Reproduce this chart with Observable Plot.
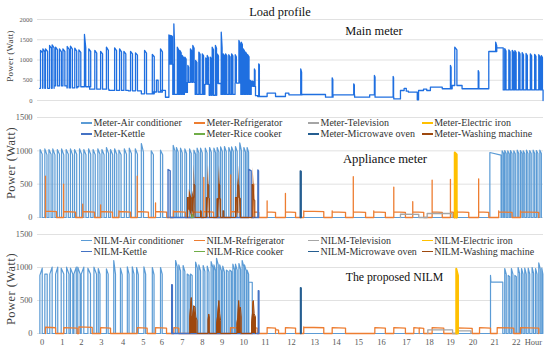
<!DOCTYPE html>
<html><head><meta charset="utf-8">
<script src="https://cdn.jsdelivr.net/npm/d3@7"></script>
<script src="https://cdn.jsdelivr.net/npm/@observablehq/plot@0.6"></script>
<style>
body{margin:0;background:#fff;}
#wrap{position:relative;width:550px;height:349px;font-family:"Liberation Serif",serif;overflow:hidden;background:#fff}
.abs{position:absolute;white-space:nowrap;line-height:1;color:#222}
.sw{display:inline-block;width:11px;height:1.6px;vertical-align:middle;margin-right:1.5px;position:relative;top:-1px}
</style></head><body><div id="wrap"></div>
<script>
// ---------------- DATA (x = position on the hour axis, y = Watt) ----------------
const hourTickPos = [0, 0.93, 1.82, 2.74, 3.76, 4.69, 5.55, 6.50, 7.43, 8.35, 9.36, 10.36, 11.57, 12.65, 13.66, 14.69, 15.75, 16.91, 17.98, 18.95, 20.0, 21.01, 22.0, 22.80];
const hourTickLabels = ["0","1","2","3","4","5","6","7","8","9","10","11","12","13","14","15","16","17","18","19","20","21","22","Hour"];
const yTicksMain = [0, 500, 1000, 1500, 2000];
const yTicksSub = [0, 500, 1000, 1500];

const applianceNames = ["Air conditioner","Refrigerator","Television","Electric iron","Kettle","Rice cooker","Microwave oven","Washing machine"];

// Main meter: baseline steps [x, W] and spikes [start, end, Wstart, Wend]
const mainBase = [[-0.12,300],[0.55,360],[1.15,310],[1.62,340],[2.2,280],[3.1,250],[4.0,240],[4.6,165],[5.15,210],[5.3,500],[5.38,210],[5.5,250],[5.72,80],[5.88,900],[6.06,150],[6.6,200],[6.74,450],[7.1,150],[7.55,400],[7.75,130],[8.1,420],[8.3,150],[8.95,430],[9.22,150],[9.7,350],[9.9,120],[10.0,99],[10.44,180],[10.83,99],[11.29,180],[11.45,140],[12.07,148],[13.15,82],[13.5,140],[14.5,82],[15.2,140],[15.45,82],[16.32,40],[16.63,247],[16.8,300],[16.9,230],[17.0,206],[17.41,17],[17.47,247],[17.7,280],[17.85,247],[18.02,330],[18.57,290],[19.03,370],[19.49,290],[20.73,1210],[21.07,1300],[21.40,260],[23.25,0]];
const mainSpikes = [
 [-0.08,0.02,1235,1180],[0.03,0.12,1276,1200],[0.15,0.25,1276,1210],[0.34,0.43,1358,1290],[0.46,0.55,1375,1300],[0.62,0.71,1316,1250],[0.80,0.89,1276,1200],[0.96,1.05,1276,1210],[1.16,1.25,1333,1260],[1.31,1.40,1341,1270],[1.51,1.60,1291,1220],[1.70,1.79,1252,1190],[1.96,2.02,1630,1300],[2.16,2.25,1276,1210],[2.44,2.53,1235,1170],[2.71,2.80,1210,1150],[2.98,3.07,1316,1240],[3.36,3.45,1300,1230],[3.59,3.68,1276,1200],[3.79,3.88,1210,1150],[4.10,4.19,1210,1150],[4.33,4.42,1178,1120],[4.75,4.84,1235,1170],[5.11,5.20,1136,1080],[5.49,5.58,1276,1200],
 [5.88,5.91,1620,1600],[5.94,5.97,1610,1590],[6.0,6.04,1600,1580],[6.11,6.14,1893,1400],[6.27,6.33,1316,1250],[6.39,6.45,1235,1180],[6.50,6.56,1111,1060],[6.62,6.68,1070,1020],[6.76,6.80,864,820],[6.88,6.94,1276,1220],[6.99,7.05,1358,1290],[7.12,7.18,988,940],[7.27,7.33,1193,1140],[7.43,7.49,1152,1100],[7.59,7.65,1050,1000],[7.66,7.71,1111,1060],[7.80,7.86,1070,1020],[7.89,7.95,1316,1250],[8.04,8.09,1358,1290],[8.12,8.18,1152,1100],[8.31,8.35,1687,1300],[8.40,8.46,1152,1100],[8.51,8.57,1152,1100],[8.66,8.72,1130,1080],[8.79,8.85,1152,1100],[8.96,9.01,1130,1080],[9.13,9.18,1481,1400],[9.24,9.29,1440,1380],[9.33,9.39,1276,1220],[9.44,9.50,1193,1140],[9.54,9.60,1130,1080],[9.64,9.69,500,480],[9.75,9.80,480,460],[9.85,9.88,780,740],[10.05,10.08,905,880],
 [12.0,12.04,782,700],[13.46,13.49,560,520],[14.46,14.49,412,380],[15.42,15.45,617,580],[16.29,16.31,593,560],[18.95,18.98,864,820],[19.15,19.25,1316,1250],[20.24,20.27,740,700],[21.05,21.10,1440,1350],
 [21.47,21.53,1280,1220],[21.66,21.72,1250,1200],[21.82,21.88,1240,1190],[21.94,22.00,1230,1180],[22.12,22.18,1200,1150],[22.28,22.34,1180,1130],[22.46,22.52,1160,1110],[22.66,22.72,1150,1100],[22.86,22.92,1140,1090],[23.05,23.11,1130,1080],[23.17,23.22,1110,1060]
];

// Appliance meter: pulses [start, end, Wstart, Wend]
const meterAC = [
 [-0.10,0.00,1020,950],[0.12,0.22,1030,940],[0.31,0.41,1020,950],[0.49,0.59,1030,940],[0.70,0.80,1020,950],[0.90,1.00,1030,940],[1.11,1.21,1020,950],[1.31,1.41,1030,940],[1.50,1.60,1020,950],[1.73,1.83,1030,950],[1.93,2.03,1020,940],[2.15,2.25,1030,950],[2.36,2.46,1020,940],[2.58,2.68,1030,950],[2.77,2.87,1020,940],[2.98,3.08,1050,960],[3.17,3.27,1020,940],[3.36,3.46,1030,950],[3.56,3.66,1010,940],[3.81,3.91,1030,950],[4.04,4.14,1040,960],[4.32,4.42,1030,950],[4.60,4.70,1110,980],[5.06,5.16,1000,940],[5.49,5.59,1010,940],
 [6.08,6.16,1082,1000],[6.23,6.31,1050,980],[6.42,6.50,1040,970],[6.62,6.70,1030,960],[6.84,6.92,1030,960],[7.04,7.12,1010,950],[7.19,7.27,1040,970],[7.35,7.43,1040,970],[7.57,7.65,1040,970],[7.77,7.85,1050,980],[7.97,8.05,1040,970],[8.12,8.20,1050,980],[8.28,8.36,1060,990],[8.46,8.54,1065,990],[8.66,8.74,1050,980],[8.79,8.87,1060,990],[8.97,9.05,1065,990],[9.17,9.25,1120,1000],[9.36,9.44,1050,980],[9.51,9.58,1050,980],
 [20.78,21.30,975,935],[21.35,21.42,1000,960],[21.47,21.54,1005,960],[21.61,21.68,1000,955],[21.74,21.81,1005,960],[21.89,21.96,1000,955],[22.05,22.12,1010,960],[22.20,22.27,1005,960],[22.33,22.40,1000,955],[22.48,22.55,1010,960],[22.63,22.70,1005,960],[22.79,22.86,1010,960],[22.94,23.01,1005,960],[23.10,23.17,1010,960]
];
// Refrigerator cycles [start, end, start spike W, plateau W]
const meterFridge = [[0.15,0.66,620,95],[0.99,1.55,500,90],[1.88,2.43,200,90],[2.71,3.26,190,90],[3.56,4.10,100,90],[4.41,4.93,620,90],[5.26,5.78,220,90],[6.09,6.65,100,90],[7.00,7.38,100,85],[7.50,7.95,600,90],[8.75,9.20,640,90],[9.82,10.05,500,85],[10.44,10.83,250,85],[11.29,11.76,360,85],[12.14,13.07,100,95],[13.46,14.08,100,85],[14.44,15.01,612,85],[15.39,15.93,100,85],[16.32,16.86,457,85],[17.20,17.71,237,85],[18.10,18.57,562,85],[18.95,19.10,570,85],[19.26,19.80,100,85],[20.26,20.73,580,85],[21.19,21.81,100,85],[22.20,23.05,100,85]];
const meterTV = [[16.63,17.48,50,48],[17.87,19.03,63,60]];
const meterIron = [[19.15,19.24,975,945]];
const meterKettle = [[5.84,5.94,720,700],[9.59,9.70,722,700],[10.01,10.04,715,700]];
const meterRice = [[6.93,7.00,45,40]];
const meterMicro = [[11.98,12.02,697,690]];
const meterWash = [
 [[6.74,300],[6.80,300],[6.80,120],[6.83,120],[6.83,300],[6.95,290],[6.95,100],[6.98,100],[6.98,300],[7.05,300],[7.05,500],[7.09,480]],
 [[7.35,100],[7.38,100]],
 [[7.62,300],[7.69,290],[7.69,500],[7.73,480],[7.73,300],[7.76,290]],
 [[8.12,280],[8.20,280],[8.20,505],[8.24,490],[8.24,280],[8.28,280]],
 [[8.40,100],[8.43,100]],
 [[8.97,300],[9.05,300],[9.05,100],[9.08,100],[9.08,490],[9.12,480],[9.12,300],[9.20,290]],
 [[9.75,500],[9.79,480],[9.79,270],[9.87,260]]
];

// Proposed NILM
const nilmAC = [
 [-0.11,0.00,880,990],[0.12,0.23,900,900],[0.35,0.46,900,1005],[0.62,0.72,900,1005],[0.88,1.00,990,900],[1.13,1.24,1005,900],[1.31,1.42,990,900],[1.47,1.58,900,1005],[1.65,1.76,1005,900],[1.81,1.93,900,1005],[2.12,2.24,990,900],[2.40,2.52,1005,900],[2.60,2.68,985,900],[2.98,3.06,980,900],[3.32,3.40,1106,900],[3.63,3.71,990,890],[3.95,4.03,1010,900],[4.18,4.26,1010,900],[4.38,4.46,1000,890],[4.72,4.80,1010,900],[5.11,5.19,1000,890],[5.49,5.57,1000,900],
 [6.19,6.27,1106,1010],[6.34,6.42,1040,950],[6.54,6.62,1030,940],[6.73,6.81,900,880],[6.88,6.96,900,880],[7.12,7.20,1080,990],[7.27,7.35,1040,950],[7.47,7.55,1030,940],[7.66,7.74,1020,930],[7.84,7.92,1090,1000],[7.97,8.05,1040,950],[8.09,8.17,1140,1040],[8.24,8.32,1040,950],[8.38,8.46,1020,930],[8.55,8.63,960,940],[8.71,8.79,960,940],[8.85,8.93,1050,960],[8.97,9.05,1050,960],[9.13,9.21,1060,970],[9.28,9.36,1106,1010],[9.39,9.47,1040,950],[9.51,9.58,960,900],[9.59,9.75,780,775],
 [21.47,21.54,985,900],[21.63,21.70,880,860],[21.78,21.85,985,900],[21.94,22.01,880,860],[22.09,22.16,1000,910],[22.25,22.32,985,900],[22.40,22.47,990,900],[22.56,22.63,990,900],[22.74,22.81,1000,910],[22.90,22.97,985,900],[23.05,23.12,1070,980],[23.19,23.24,990,900]
];
const nilmACPlateau = [[[20.81,880],[20.83,777],[21.38,777]]];
const nilmFridge = [[0.15,0.62,95,95],[1.00,1.62,90,90],[1.70,2.32,100,100],[2.71,3.17,90,90],[4.41,4.87,90,90],[5.26,5.77,90,90],[6.11,6.34,90,90],[8.74,9.20,90,90],[9.77,9.98,480,90],[10.44,10.83,90,90],[10.83,10.97,60,60],[11.29,11.76,90,90],[12.14,13.07,100,95],[13.46,14.08,90,90],[15.44,15.93,90,90],[16.32,16.86,90,90],[17.25,17.50,90,90],[17.50,17.71,85,85],[18.10,18.64,90,90],[19.26,19.96,85,85],[20.30,20.81,90,90],[21.12,21.89,90,90],[22.20,23.05,90,90]];
const nilmTV = [[17.90,19.05,55,55],[19.30,19.90,40,40]];
const nilmIron = [[19.22,19.30,980,880]];
const nilmKettle = [[6.01,6.04,740,735],[10.03,10.06,650,645]];
const nilmRice = [];
const nilmMicro = [[11.99,12.02,692,690]];
const nilmWash = [
 [[6.85,240],[6.92,545],[6.95,250],[6.99,280],[7.04,420],[7.09,400],[7.13,250],[7.19,200]],
 [[7.70,200],[7.73,295],[7.76,250]],
 [[8.10,150],[8.14,260],[8.20,500],[8.24,300],[8.28,200]],
 [[9.04,150],[9.08,245],[9.12,500],[9.16,330],[9.20,400],[9.24,250]],
 [[9.72,150],[9.76,300],[9.80,500],[9.84,300],[9.90,250]]
];

// ---------------- styles ----------------
const palette = ["#5b9bd5","#ed7d31","#a5a5a5","#ffc000","#4472c4","#70ad47","#255e91","#9e480e"];
const mainColor = "#1f6fe0";
const FONT = '"Liberation Serif", serif';
const xDomain = [-0.22, 23.27];
const wrap = document.getElementById("wrap");
const X = d => d[0], Y = d => d[1];

// ---------------- helpers: turn event lists into line points ----------------
function pulsesToShapes(ev){ return ev.map(([s,e,a,b]) => [[s,a],[e,b]]); }
function fridgeToShapes(ev){ return ev.map(([s,e,sp,pl]) => [[s,sp],[s,pl],[e,pl-8]]); }
function seriesPoints(shapes){
  const items = shapes.slice().sort((p,q) => p[0][0]-q[0][0]);
  const pts = [];
  for (const it of items) pts.push([it[0][0],0], ...it, [it[it.length-1][0],0]);
  return pts;
}
function mainPoints(){
  const pts = [];
  for (let i = 0; i < mainBase.length - 1; i++) {
    const [u0, w] = mainBase[i], u1 = mainBase[i+1][0];
    pts.push([u0, w]);
    for (const [s,e,a,b] of mainSpikes) if (s >= u0 && s < u1) pts.push([s,w],[s,a],[e,b],[e,w]);
    pts.push([u1, w]);
  }
  const last = mainBase[mainBase.length-1];
  pts.push(last);
  return pts;
}

function panel(top, height, mt, mb, yMax, yTicks, tickFont, marks){
  const svg = Plot.plot({
    width: 550, height, marginLeft: 37, marginRight: 7, marginTop: mt, marginBottom: mb,
    x: {domain: xDomain, axis: null},
    y: {domain: [0, yMax], axis: null},
    style: {fontFamily: FONT, background: "transparent", overflow: "visible"},
    marks: [
      Plot.gridY(yTicks, {stroke: "#d9d9d9", strokeOpacity: 1, strokeWidth: 0.8}),
      Plot.axisY(yTicks, {tickSize: 0, tickPadding: 5, fontSize: tickFont, color: "#595959", tickFormat: d => String(d)}),
      ...marks
    ]
  });
  svg.style.position = "absolute"; svg.style.left = "0px"; svg.style.top = top + "px";
  wrap.appendChild(svg);
}

function applianceMarks(ac, acExtra, fridge, tv, iron, kettle, rice, micro, wash){
  const line = (shapes, i, sw) => Plot.line(seriesPoints(shapes), {x: X, y: Y, stroke: palette[i], strokeWidth: sw});
  const washPts = seriesPoints(wash);
  const m = [
    line(pulsesToShapes(ac).concat(acExtra), 0, 1.2),
    line(fridgeToShapes(fridge), 1, 1.3),
    line(pulsesToShapes(tv), 2, 1.3),
    line(pulsesToShapes(iron), 3, 2),
    line(pulsesToShapes(kettle), 4, 1.4)
  ];
  if (rice.length) m.push(line(pulsesToShapes(rice), 5, 1.3));
  m.push(line(pulsesToShapes(micro), 6, 1.5));
  m.push(Plot.areaY(washPts, {x: X, y: Y, fill: palette[7]}));
  m.push(Plot.line(washPts, {x: X, y: Y, stroke: palette[7], strokeWidth: 1}));
  return m;
}

// ---------------- panels ----------------
panel(0, 105, 19, 5, 2000, yTicksMain, 6.5, [
  Plot.line(mainPoints(), {x: X, y: Y, stroke: mainColor, strokeWidth: 1.3})
]);
panel(105, 117, 12, 5, 1500, yTicksSub, 8.4,
  applianceMarks(meterAC, [], meterFridge, meterTV, meterIron, meterKettle, meterRice, meterMicro, meterWash));
const xTicks = hourTickPos.map((p, i) => ({p, label: hourTickLabels[i]}));
panel(222, 127, 12, 16, 1500, yTicksSub, 8.4,
  applianceMarks(nilmAC, nilmACPlateau, nilmFridge, nilmTV, nilmIron, nilmKettle, nilmRice, nilmMicro, nilmWash).concat([
    Plot.text(xTicks, {x: "p", y: () => 0, text: "label", dy: 9, fontSize: 8.5, fill: "#595959", lineAnchor: "middle"})
  ]));

// ---------------- text: titles, axis titles, legends ----------------
function addText(txt, x, y, size, extra = {}){
  const d = document.createElement("div");
  d.className = "abs"; d.textContent = txt;
  Object.assign(d.style, {left: x + "px", top: y + "px", fontSize: size + "px", transform: "translate(-50%,-50%)"}, extra);
  wrap.appendChild(d);
  return d;
}
addText("Load profile", 280, 12, 12.4, {color: "#111"});
addText("Main meter", 374, 31, 12.4, {color: "#111"});
addText("Appliance meter", 385, 159, 12.7, {color: "#111"});
addText("The proposed NILM", 394.5, 277.5, 11.8, {color: "#111"});
addText("Power (Watt)", 10, 55.5, 9, {transform: "translate(-50%,-50%) rotate(-90deg)", letterSpacing: "0.3px", color: "#404040"});
addText("Power (Watt)", 10.5, 162.5, 12.4, {transform: "translate(-50%,-50%) rotate(-90deg)", letterSpacing: "0.5px", color: "#404040"});
addText("Power (Watt)", 10.5, 289, 12.4, {transform: "translate(-50%,-50%) rotate(-90deg)", letterSpacing: "0.5px", color: "#404040"});

const legendCols = [81, 194, 308, 421.7];
function addLegend(prefix, rowY){
  applianceNames.forEach((name, i) => {
    const d = document.createElement("div");
    d.className = "abs";
    Object.assign(d.style, {left: legendCols[i % 4] + "px", top: rowY[Math.floor(i / 4)] + "px", fontSize: "10px", transform: "translateY(-50%)", color: "#333"});
    const sw = document.createElement("span");
    sw.className = "sw"; sw.style.background = palette[i];
    d.appendChild(sw);
    d.appendChild(document.createTextNode(prefix + name));
    wrap.appendChild(d);
  });
}
addLegend("Meter-", [123.3, 134.3]);
addLegend("NILM-", [240.7, 251.7]);
</script></body></html>
